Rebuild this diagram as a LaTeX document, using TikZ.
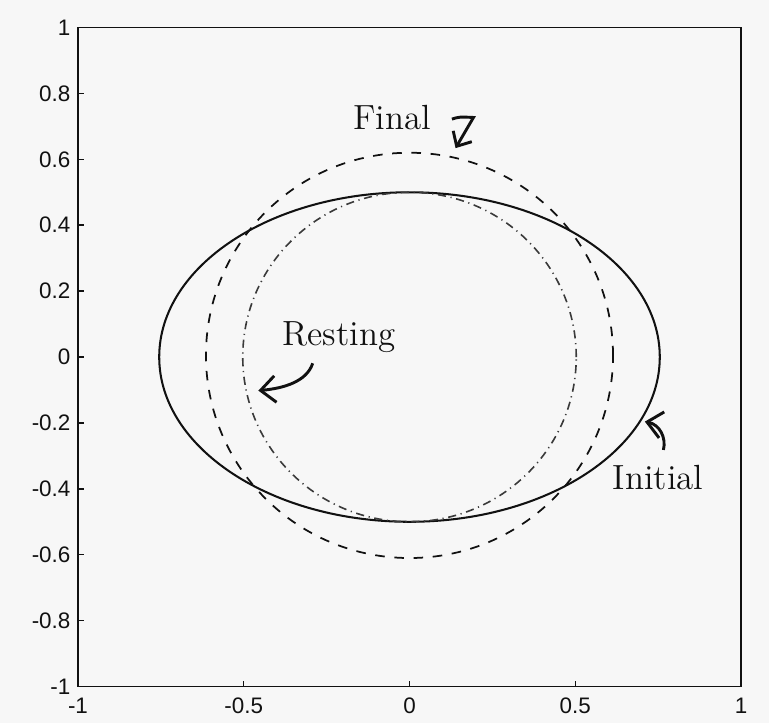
\documentclass[tikz,border=0pt]{standalone}
\usepackage{fontspec}
\newfontfamily\axisfont{Liberation Sans}
\usetikzlibrary{arrows.meta}
\definecolor{paper}{HTML}{F7F7F7}
\definecolor{ink}{HTML}{111111}
\definecolor{muted}{HTML}{3A3A3A}

\begin{document}
\begin{tikzpicture}[
  x=4cm, y=3.976cm,
  frame/.style={line width=0.65pt,draw=ink},
  tk/.style={line width=0.5pt,draw=ink},
  ticklbl/.style={font=\axisfont\fontsize{7.7}{9}\selectfont,inner sep=0pt,text=ink},
  initial/.style={line width=0.7pt,draw=ink},
  final/.style={line width=0.6pt,draw=ink,dash pattern=on 3.3pt off 3.3pt},
  resting/.style={line width=0.55pt,draw=muted,
                  dash pattern=on 2.8pt off 1.6pt on 0.4pt off 1.6pt},
  note/.style={font=\fontsize{12}{14}\selectfont,inner sep=0pt,text=ink},
  pointer/.style={-{Straight Barb[length=1.8mm,width=3.2mm]},line width=1pt,draw=ink},
]

% ------------------------------------------------------------- page, axes
\path[fill=paper] (-1.2353,-1.1108) rectangle (1.0845,1.0835);
\draw[frame] (-1,-1) rectangle (1,1);

\foreach \y/\t in {1/1,0.8/0.8,0.6/0.6,0.4/0.4,0.2/0.2,0/0,
                   -0.2/-0.2,-0.4/-0.4,-0.6/-0.6,-0.8/-0.8,-1/-1} {
  \draw[tk] (-1,\y) -- ++(2pt,0);
  \node[ticklbl,anchor=east,xshift=-2.4pt] at (-1,\y) {\t};
}
\foreach \x/\t in {-1/-1,-0.5/-0.5,0/0,0.5/0.5,1/1} {
  \draw[tk] (\x,-1) -- ++(0,2pt);
  \node[ticklbl,anchor=north,yshift=-3.6pt] at (\x,-1) {\t};
}

% ------------------------------------------------------------- the shapes
\draw[initial] (0,0) ellipse [x radius=0.755, y radius=0.5];
\draw[final]   (0,0.005) ellipse [x radius=0.614, y radius=0.615];
\draw[resting] (0,0) ellipse [x radius=0.503, y radius=0.5];

% ------------------------------------------------------------- labels
\node[note] (lfinal)   at (-0.053,0.728) {Final};
\node[note] (lresting) at (-0.213,0.059) {Resting};
\node[note] (linitial) at (0.750,-0.367) {Initial};

\coordinate (ffrom) at (0.128,0.722);
\coordinate (fbend) at (0.193,0.727);
\coordinate (fto)   at (0.139,0.634);
\draw[pointer,-{Straight Barb[length=1.4mm,width=2.6mm]}]
  (ffrom) .. controls (0.15,0.729) .. (fbend) -- (fto);

\coordinate (rfrom) at (-0.292,-0.019);
\coordinate (rto)   at (-0.456,-0.102);
\draw[pointer] (rfrom) .. controls (-0.31,-0.075) and (-0.38,-0.095) .. (rto);

\coordinate (ifrom) at (0.766,-0.282);
\coordinate (ito)   at (0.710,-0.196);
\draw[pointer] (ifrom) .. controls (0.775,-0.245) and (0.755,-0.205) .. (ito);

\end{tikzpicture}
\end{document}
